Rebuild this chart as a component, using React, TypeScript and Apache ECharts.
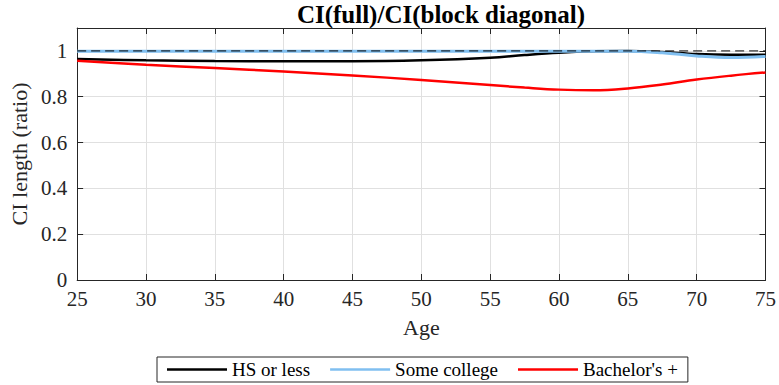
import React, { useEffect, useRef } from "react";
import * as echarts from "echarts";

const ages = [25, 30, 35, 40, 45, 50, 55, 57.5, 60, 62.5, 65, 67.5, 70, 72.5, 75];
const hsOrLess = [0.965, 0.959, 0.956, 0.955, 0.955, 0.959, 0.970, 0.982, 0.992, 0.998, 1.0, 0.995, 0.986, 0.983, 0.983];
const someCollege = [0.998, 0.998, 0.998, 0.998, 0.998, 0.998, 0.998, 0.998, 0.998, 0.999, 0.999, 0.992, 0.978, 0.971, 0.976];
const bachelors = [0.957, 0.940, 0.925, 0.910, 0.893, 0.873, 0.851, 0.840, 0.831, 0.828, 0.836, 0.853, 0.875, 0.892, 0.906];
const refLine = [1, 1];
const refAges = [25, 75];

const FONT = "Liberation Serif";
const AXIS = "#262626";

export default function App() {
  const ref = useRef<HTMLDivElement>(null);
  useEffect(() => {
    if (!ref.current) return;
    const chart = echarts.init(ref.current, undefined, { renderer: "svg" });
    const pair = (xs: number[], ys: number[]) => xs.map((x, i) => [x, ys[i]]);
    chart.setOption({
      animation: false,
      backgroundColor: "#ffffff",
      textStyle: { fontFamily: FONT },
      graphic: [
        {
          type: "text",
          x: 441,
          y: 14,
          style: {
            text: "CI(full)/CI(block diagonal)",
            font: `bold 25px "${FONT}"`,
            fill: "#000",
            textAlign: "center",
            textVerticalAlign: "middle",
          },
        },
      ],
      grid: { left: 75, right: 11, top: 28, bottom: 105, containLabel: false },
      legend: {
        data: ["HS or less", "Some college", "Bachelor's +"],
        left: 157,
        top: 357,
        orient: "horizontal",
        icon: "rect",
        itemWidth: 60,
        itemHeight: 2.5,
        itemGap: 20,
        padding: [3, 10, 3, 10],
        borderColor: AXIS,
        borderWidth: 1,
        borderRadius: 0,
        backgroundColor: "#fff",
        textStyle: { fontFamily: FONT, fontSize: 19, color: "#000" },
      },
      xAxis: [
        {
          type: "value",
          min: 25,
          max: 75,
          interval: 5,
          name: "Age",
          nameLocation: "middle",
          nameGap: 36,
          nameTextStyle: { fontFamily: FONT, fontSize: 22, color: AXIS },
          axisLine: { show: true, onZero: false, lineStyle: { color: AXIS, width: 1 } },
          axisTick: { show: true, inside: true, length: 6, lineStyle: { color: AXIS } },
          axisLabel: { fontFamily: FONT, fontSize: 21, color: AXIS, margin: 8 },
          splitLine: { show: true, lineStyle: { color: "#e0e0e0", width: 1 } },
        },
        {
          type: "value",
          position: "top",
          min: 25,
          max: 75,
          interval: 5,
          axisLine: { show: true, onZero: false, lineStyle: { color: AXIS, width: 1 } },
          axisTick: { show: true, inside: true, length: 6, lineStyle: { color: AXIS } },
          axisLabel: { show: false },
          splitLine: { show: false },
        },
      ],
      yAxis: [
        {
          type: "value",
          min: 0,
          max: 1.1,
          interval: 0.2,
          name: "CI length (ratio)",
          nameLocation: "middle",
          nameGap: 42,
          nameRotate: 90,
          nameTextStyle: { fontFamily: FONT, fontSize: 22, color: AXIS },
          axisLine: { show: true, onZero: false, lineStyle: { color: AXIS, width: 1 } },
          axisTick: { show: true, inside: true, length: 6, lineStyle: { color: AXIS } },
          axisLabel: {
            fontFamily: FONT,
            fontSize: 21,
            color: AXIS,
            margin: 10,
            formatter: (v: number) => (v > 1.05 ? "" : String(Math.round(v * 10) / 10)),
          },
          splitLine: { show: true, lineStyle: { color: "#e0e0e0", width: 1 } },
        },
        {
          type: "value",
          position: "right",
          min: 0,
          max: 1.1,
          interval: 0.2,
          axisLine: { show: true, onZero: false, lineStyle: { color: AXIS, width: 1 } },
          axisTick: { show: true, inside: true, length: 6, lineStyle: { color: AXIS } },
          axisLabel: { show: false },
          splitLine: { show: false },
        },
      ],
      series: [
        {
          name: "HS or less",
          type: "line",
          data: pair(ages, hsOrLess),
          smooth: 0.4,
          showSymbol: false,
          color: "#000000",
          lineStyle: { color: "#000000", width: 2.5 },
          z: 2,
        },
        {
          name: "Some college",
          type: "line",
          data: pair(ages, someCollege),
          smooth: 0.4,
          showSymbol: false,
          color: "#80bff0",
          lineStyle: { color: "#80bff0", width: 3 },
          z: 3,
        },
        {
          name: "Bachelor's +",
          type: "line",
          data: pair(ages, bachelors),
          smooth: 0.4,
          showSymbol: false,
          color: "#ff0000",
          lineStyle: { color: "#ff0000", width: 2.5 },
          z: 4,
        },
        {
          name: "reference",
          type: "line",
          data: pair(refAges, refLine),
          showSymbol: false,
          silent: true,
          color: "#000000",
          lineStyle: { color: "#000000", width: 1, type: [9, 5] },
          z: 5,
        },
      ],
    });
    return () => chart.dispose();
  }, []);
  return <div ref={ref} style={{ width: 779, height: 385, position: "absolute", left: 0, top: 0 }} />;
}
